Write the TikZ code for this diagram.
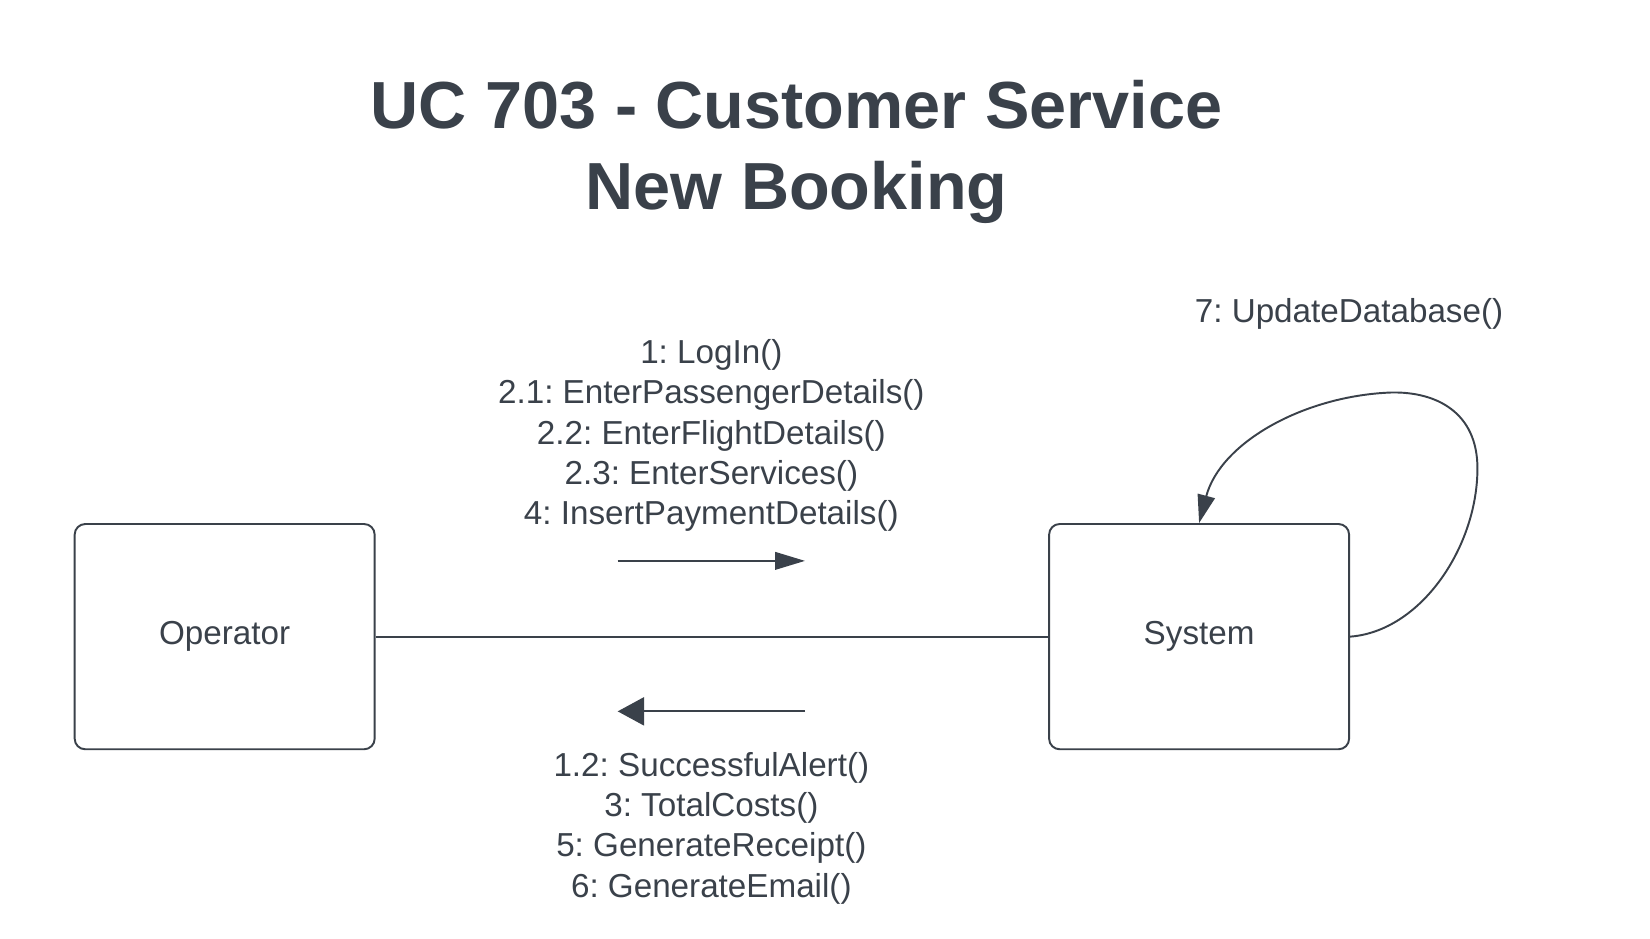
\documentclass[tikz,border=0pt]{standalone}
\usepackage{fontspec}
\setmainfont{Liberation Sans}
\frenchspacing
\usetikzlibrary{arrows.meta,positioning}
\definecolor{ink}{HTML}{3A414A}
\tikzset{
  object/.style={draw=ink, line width=1.1pt, rounded corners=6pt,
    minimum width=5.998cm, minimum height=4.504cm, text=ink,
    font=\fontsize{18.9}{22.9}\selectfont},
  msg/.style={align=center, text=ink, inner sep=0pt,
    font=\fontsize{18.9}{22.9}\selectfont},
  link/.style={draw=ink, line width=1.1pt},
}
\begin{document}
\begin{tikzpicture}[x=0.021046cm, y=-0.021046cm]
  \useasboundingbox (0,0) rectangle (1568,891.4);

  % Title
  \node[align=center, text=ink, inner sep=0pt,
    font=\fontsize{37.9}{46}\selectfont\bfseries] (title) at (757,144)
    {UC 703 - Customer Service\\New Booking};

  % Objects
  \node[object] (operator) at (213.5,605) {Operator};
  \node[object] (system) at (1139.5,605) {System};
  \draw[link] (operator) -- (system);

  % Messages to the system
  \coordinate (toA) at (587,533);
  \coordinate (toB) at (765,533);
  \draw[link, -{Triangle[length=17pt,width=10pt]}] (toA) -- (toB);
  \node[msg] (calls) at (676,414)
    {1: LogIn()\\2.1: EnterPassengerDetails()\\2.2: EnterFlightDetails()\\2.3: EnterServices()\\4: InsertPaymentDetails()};

  % Messages back to the operator
  \coordinate (backA) at (765,676);
  \coordinate (backB) at (587,676);
  \draw[link, -{Triangle[length=15pt,width=16pt]}] (backA) -- (backB);
  \node[msg] (replies) at (676,787)
    {1.2: SuccessfulAlert()\\3: TotalCosts()\\5: GenerateReceipt()\\6: GenerateEmail()};

  % Self call
  \draw[link, -{Triangle[length=16pt,width=10pt]}] (system.east)
    .. controls (1350,600) and (1404,520) .. (1404,445)
    .. controls (1404,392) and (1365,372) .. (1322,373)
    .. controls (1240,376) and (1160,420) .. (system.north);
  \node[msg] (update) at (1282,298) {7: UpdateDatabase()};
\end{tikzpicture}
\end{document}
